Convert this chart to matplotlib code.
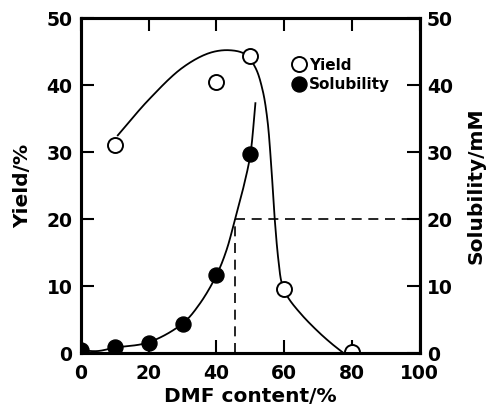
import numpy as np
import matplotlib
matplotlib.use("Agg")
import matplotlib.pyplot as plt

plt.rcParams['font.family'] = ['DejaVu Sans']
plt.rcParams['font.weight'] = 'bold'

# measured points
dmf_yield = [10, 40, 50, 60, 80]
yield_pct = [31.0, 40.5, 44.4, 9.5, 0.2]
dmf_sol = [0, 10, 20, 30, 40, 50]
solubility = [0.4, 0.9, 1.5, 4.3, 11.6, 29.7]

# hand-drawn guide curves (knots)
yield_curve_x = [10.9, 20.0, 30.0, 38.0, 44.0, 48.5, 51.5, 53.6, 55.0, 56.1, 57.2,
                 58.3, 59.3, 61.0, 65.0, 70.0, 74.0, 77.5]
yield_curve_y = [32.5, 37.8, 42.6, 44.8, 45.2, 44.6, 42.6, 39.3, 35.0, 28.5, 20.0,
                 13.8, 10.4, 8.4, 5.8, 3.2, 1.4, 0.0]
sol_curve_x = [0, 5, 10, 20, 30, 35, 40, 43, 45.5, 48, 50, 51.5]
sol_curve_y = [0.4, 0.3, 0.8, 1.6, 4.4, 7.3, 11.6, 15.4, 20.0, 24.8, 29.6, 37.3]

# dashed guide: 20 mM solubility
guide_dmf = 45.5
guide_sol = 20


def smooth(xs, ys, n=25):
    # centripetal catmull-rom, worked out in roughly screen-scaled units
    sx, sy = 339 / 100, 335 / 50
    p = np.column_stack([np.array(xs) * sx, np.array(ys) * sy])
    p = np.vstack([2 * p[0] - p[1], p, 2 * p[-1] - p[-2]])
    out = []
    for i in range(1, len(p) - 2):
        p0, p1, p2, p3 = p[i - 1], p[i], p[i + 1], p[i + 2]
        t0 = 0.0
        t1 = t0 + np.linalg.norm(p1 - p0) ** 0.5
        t2 = t1 + np.linalg.norm(p2 - p1) ** 0.5
        t3 = t2 + np.linalg.norm(p3 - p2) ** 0.5
        t = np.linspace(t1, t2, n, endpoint=False)[:, None]
        a1 = (t1 - t) / (t1 - t0) * p0 + (t - t0) / (t1 - t0) * p1
        a2 = (t2 - t) / (t2 - t1) * p1 + (t - t1) / (t2 - t1) * p2
        a3 = (t3 - t) / (t3 - t2) * p2 + (t - t2) / (t3 - t2) * p3
        b1 = (t2 - t) / (t2 - t0) * a1 + (t - t0) / (t2 - t0) * a2
        b2 = (t3 - t) / (t3 - t1) * a2 + (t - t1) / (t3 - t1) * a3
        out.append((t2 - t) / (t2 - t1) * b1 + (t - t1) / (t2 - t1) * b2)
    out.append(p[-2][None, :])
    out = np.vstack(out)
    return out[:, 0] / sx, out[:, 1] / sy


fig = plt.figure(figsize=(4.87, 4.11), dpi=100)
ax = fig.add_axes([0.166, 0.141, 0.696, 0.815])
ax2 = ax.twinx()

cx, cy = smooth(yield_curve_x, yield_curve_y)
ax.plot(cx, cy, color='black', lw=1.3, zorder=2)
sx, sy = smooth(sol_curve_x, sol_curve_y)
ax.plot(sx, sy, color='black', lw=1.3, zorder=2)

ax.plot([guide_dmf, guide_dmf], [0, guide_sol], color='black', lw=1.2, ls=(0, (6, 4)))
ax.plot([guide_dmf, 100], [guide_sol, guide_sol], color='black', lw=1.2, ls=(0, (6, 4)))

ax.plot(dmf_yield, yield_pct, 'o', ms=10.8, mfc='white', mec='black', mew=1.4,
        label='Yield', zorder=4)
ax.plot(dmf_sol, solubility, 'o', ms=10.8, mfc='black', mec='black',
        label='Solubility', zorder=4)

ax.set_xlim(0, 100)
ax.set_ylim(0, 50)
ax2.set_ylim(0, 50)
ax.set_xticks([0, 20, 40, 60, 80, 100])
ax.set_yticks([0, 10, 20, 30, 40, 50])
ax2.set_yticks([0, 10, 20, 30, 40, 50])

for a in (ax, ax2):
    for s in a.spines.values():
        s.set_linewidth(2.2)
ax.tick_params(axis='both', direction='in', length=9.5, width=1.5, labelsize=13.5,
               top=True)
ax.tick_params(axis='x', pad=8)
ax.tick_params(axis='y', pad=6)
ax2.tick_params(axis='y', direction='in', length=9.5, width=1.5, labelsize=13.5, pad=5)

ax.set_xlabel('DMF content/%', fontsize=14.5, fontweight='bold', labelpad=3)
ax.set_ylabel('Yield/%', fontsize=14.5, fontweight='bold', labelpad=10)
ax2.set_ylabel('Solubility/mM', fontsize=14.5, fontweight='bold', labelpad=10)

leg = ax.legend(loc='upper left', bbox_to_anchor=(0.612, 0.9), frameon=False,
                handlelength=0.55, handletextpad=0.4, borderaxespad=0,
                labelspacing=0.3, prop={'size': 11, 'weight': 'bold'},
                markerscale=1.0)

fig.savefig('out.png', dpi=100)
